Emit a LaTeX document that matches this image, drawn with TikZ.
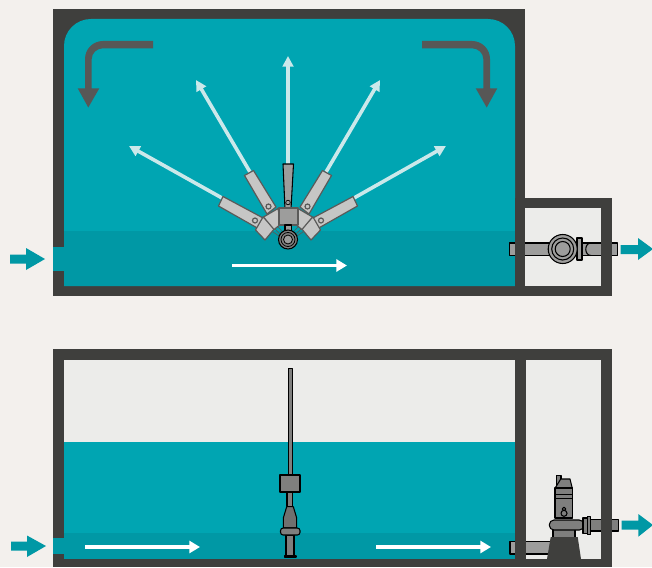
\documentclass[tikz,border=0pt]{standalone}
\usetikzlibrary{arrows.meta}
\definecolor{bgc}{HTML}{F3F0ED}
\definecolor{wallc}{HTML}{3F3F3D}
\definecolor{waterc}{HTML}{00A5B2}
\definecolor{bandc}{HTML}{0098A5}
\definecolor{roomc}{HTML}{ECECEA}
\definecolor{lightc}{HTML}{CBE8EA}
\definecolor{grayarrow}{HTML}{575756}
\definecolor{devc}{HTML}{C6C6C5}
\definecolor{devd}{HTML}{9D9D9C}
\definecolor{devm}{HTML}{7F7F7E}
\definecolor{edgec}{HTML}{5A5A59}
\tikzset{
  wall/.style={fill=wallc},
  fan/.style={draw=lightc,line width=2.7pt,-{Triangle[length=8pt,width=8pt]}},
  flow/.style={draw=white,line width=2.6pt,-{Triangle[length=8pt,width=9pt]}},
  armp/.style={fill=devc,draw=edgec,line width=0.9pt,line join=round},
  pipep/.style={fill=devd,draw=black,line width=0.8pt,line join=round},
  pumpq/.style={fill=devm,draw=black,line width=0.8pt,line join=round}
}
\newcommand{\curvedarrow}{%
  \fill[grayarrow] (153,41) -- (103,41) .. controls (93,41) and (85,49) .. (85,59) -- (85,88.3) -- (77.7,88.3)
    -- (88.3,107.5) -- (99.3,88.3) -- (91.7,88.3) -- (91.7,59) .. controls (91.7,53) and (97,48.3) .. (103,48.3) -- (153,48.3) -- cycle;}
\newcommand{\halfdevice}{%
  \path[armp] (218.5,206) -- (223,196.5) -- (265,219) -- (259,229) -- cycle;
  \path[armp] (244.5,175.5) -- (253.5,170.5) -- (276,207) -- (267,214) -- cycle;
  \path[armp] (255,220.5) circle[radius=2.5];
  \path[armp] (268.5,206.5) circle[radius=2.5];
  \path[armp] (255.5,230) -- (263,217) -- (275,228) -- (265,240) -- cycle;
  \path[armp] (263.5,217) -- (278,208.5) -- (281,224) -- (274,229.5) -- cycle;
  \draw[edgec,line width=0.5pt] (275,229) -- (280,234) (278,227) -- (282,231) (273,232) -- (279,236);}
\begin{document}
\begin{tikzpicture}[x=0.75pt,y=-0.75pt]
\useasboundingbox (0,0) rectangle (652,567);
\fill[bgc] (0,0) rectangle (652,567);
% ===== top tank =====
\fill[wall] (53,9) rectangle (525,296);
\fill[wall] (515,198) rectangle (612,296);
\fill[waterc] (64,46) .. controls (64,31) and (76,19) .. (91,19) -- (488,19) .. controls (503,19) and (515,31) .. (515,46) -- (515,286) -- (64,286) -- cycle;
\fill[bandc] (64,231) rectangle (515,286);
\fill[bandc] (53,247) rectangle (64,271);
\fill[roomc] (525,208) rectangle (601,286);
% top pipe and pump
\path[pipep] (509.5,243) rectangle (617.5,255.5);
\fill[wall] (515,198) rectangle (525,296);
\fill[wall] (601,198) rectangle (612,296);
\draw[black,line width=0.8pt] (591,243) .. controls (584,243) and (584,255.5) .. (591,255.5);
\path[pipep] (577,238) rectangle (582,260);
\path[pipep] (562.7,249) circle[radius=14.5];
\path[pipep] (562.7,249) circle[radius=11];
\path[pipep] (562.7,249) circle[radius=7.5];
% gray circulation arrows
\curvedarrow
\begin{scope}[shift={(575,0)},xscale=-1]\curvedarrow\end{scope}
% fan arrows
\coordinate (fanA) at (222,198); \coordinate (fanAt) at (129,146);
\coordinate (fanB) at (250,172); \coordinate (fanBt) at (196,80);
\coordinate (fanC) at (288,165); \coordinate (fanCt) at (288,56);
\coordinate (fanD) at (326,172); \coordinate (fanDt) at (380,80);
\coordinate (fanE) at (354,198); \coordinate (fanEt) at (446,146);
\draw[fan] (fanA) -- (fanAt);
\draw[fan] (fanB) -- (fanBt);
\draw[fan] (fanC) -- (fanCt);
\draw[fan] (fanD) -- (fanDt);
\draw[fan] (fanE) -- (fanEt);
% aerator fan device
\halfdevice
\begin{scope}[shift={(576,0)},xscale=-1]\halfdevice\end{scope}
\path[pipep] (283,164) -- (293.5,164) -- (291,209) -- (285,209) -- cycle;
\path[pipep,line width=0.5pt] (288,202.5) circle[radius=2.3];
\path[pipep,draw=edgec] (279,208) rectangle (298,225);
\path[pipep] (285,225) rectangle (291.5,232);
\path[pumpq] (288,239.5) circle[radius=9.5];
\path[pumpq,line width=0.6pt] (288,239.5) circle[radius=7];
\path[pipep,line width=0.6pt] (288,239.5) circle[radius=4.5];
% flow arrow top
\coordinate (flowTa) at (232,265.5); \coordinate (flowTb) at (347,265.5);
\draw[flow] (flowTa) -- (flowTb);
% inlet and outlet arrows top
\fill[bandc] (10,254.5) -- (26,254.5) -- (26,248) -- (45,259) -- (26,270) -- (26,263.5) -- (10,263.5) -- cycle;
\fill[bandc] (620.5,245) -- (638,245) -- (638,238) -- (653,249) -- (638,260) -- (638,254) -- (620.5,254) -- cycle;
% ===== bottom tank =====
\fill[wall] (53,349) rectangle (612,567);
\fill[roomc] (64,360) rectangle (515,559);
\fill[waterc] (64,442) rectangle (515,559);
\fill[bandc] (64,533) rectangle (515,559);
\fill[bandc] (53,538) rectangle (64,554);
\fill[roomc] (526,360) rectangle (601,559);
% bottom pipes
\path[pipep] (510,541.5) rectangle (553,554);
\fill[wall] (515,349) rectangle (526,567);
\path[pumpq] (590,519.3) rectangle (618.3,531);
\fill[wall] (601,349) rectangle (612,567);
% bottom float device
\path[pumpq,line width=0.5pt] (288,368) rectangle (292,476);
\path[pumpq] (280,475) rectangle (300,492);
\path[pumpq] (287,492) rectangle (292.5,506.7);
\path[pumpq,fill=devm!88!black] (286.7,506.7) -- (293.3,506.7) -- (296.7,518) -- (296.7,528) -- (283.3,528) -- (283.3,518) -- cycle;
\path[pumpq] (286,535) rectangle (294,556);
\path[pumpq,rounded corners=2pt] (280.5,528) rectangle (300,535);
\path[pumpq] (284.5,556) rectangle (296,557);
% submersible pump
\path[pumpq] (553,529) rectangle (575,537.3);
\fill[wall] (550.7,537) -- (577.7,537) -- (581,559) -- (547,559) -- cycle;
\path[pumpq] (556.7,475.7) rectangle (561,488);
\path[pumpq] (560.7,479) -- (570,479) -- (572.3,488.3) -- (555,488.3) -- cycle;
\path[pumpq] (555,488) rectangle (572.3,518);
\draw[black,line width=0.6pt] (555,494) -- (572.3,494) (555,498) -- (572.3,498);
\path[pumpq] (564,509) circle[radius=1.8];
\path[pumpq] (564,513.3) circle[radius=3];
\path[pumpq,rounded corners=3.5pt] (549.3,520) rectangle (584,530);
\path[pumpq] (583,518) rectangle (587.3,533.5);
\path[pumpq] (587.3,516.5) rectangle (590.7,534.5);
% inlet and outlet arrows bottom
\fill[bandc] (11,541.5) -- (27,541.5) -- (27,535.5) -- (46,546) -- (27,557) -- (27,550.5) -- (11,550.5) -- cycle;
\fill[bandc] (621.5,520.7) -- (638.3,520.7) -- (638.3,514) -- (653,525) -- (638.3,536.7) -- (638.3,529.7) -- (621.5,529.7) -- cycle;
% flow arrows bottom
\coordinate (flowLa) at (85,547); \coordinate (flowLb) at (200,547);
\coordinate (flowRa) at (376,547); \coordinate (flowRb) at (491,547);
\draw[flow] (flowLa) -- (flowLb);
\draw[flow] (flowRa) -- (flowRb);
\end{tikzpicture}
\end{document}
